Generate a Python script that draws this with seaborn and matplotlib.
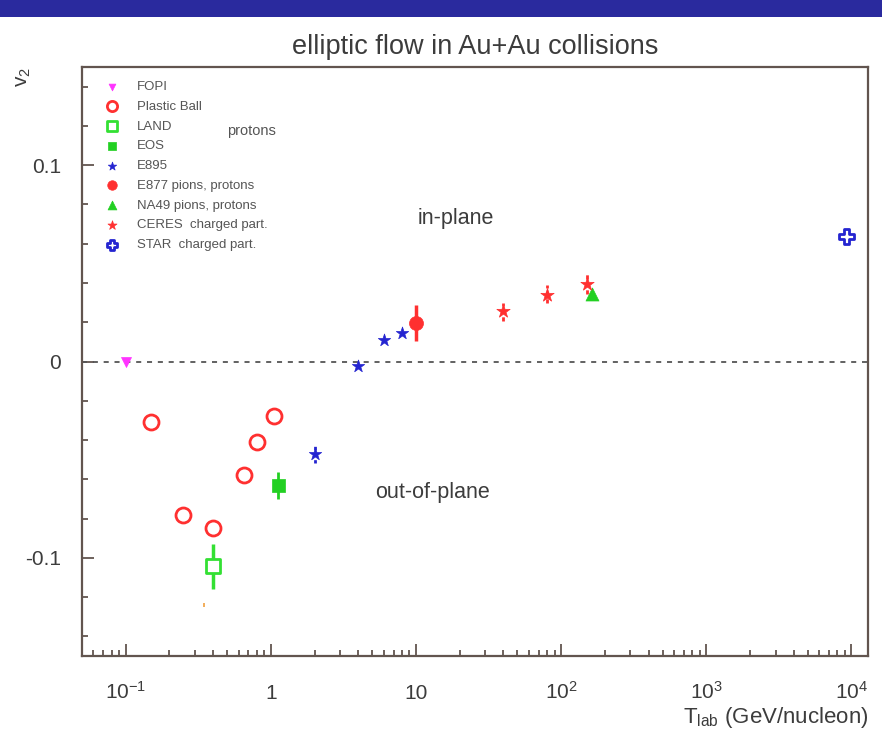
import numpy as np
import pandas as pd
import matplotlib
matplotlib.use("Agg")
import matplotlib.pyplot as plt
import seaborn as sns
from matplotlib.patches import Rectangle
from matplotlib.ticker import FixedLocator, LogLocator, MultipleLocator, NullFormatter, FixedFormatter

# ---------------- data ----------------
fopi_x = [0.1]
fopi_y = [0.0]

pb_x = [0.15, 0.25, 0.40, 0.65, 0.80, 1.05]
pb_y = [-0.031, -0.078, -0.085, -0.058, -0.041, -0.028]

land_x = [0.40]
land_y = [-0.104]
land_lo = [-0.116]
land_hi = [-0.093]

eos_x = [1.12]
eos_y = [-0.063]
eos_lo = [-0.070]
eos_hi = [-0.0565]

e895_x = [2.0, 4.0, 6.0, 8.0]
e895_y = [-0.047, -0.0025, 0.0112, 0.0146]
e895_err_x = [2.0]
e895_lo = [-0.0515]
e895_hi = [-0.042]

e877_x = [10.0]
e877_y = [0.0197]
e877_lo = [0.0104]
e877_hi = [0.029]

na49_x = [162.0]
na49_y = [0.0345]

ceres_x = [40.0, 80.0, 150.0]
ceres_y = [0.0257, 0.034, 0.0395]
ceres_lo = [0.0207, 0.030, 0.0345]
ceres_hi = [0.030, 0.0388, 0.0447]

star_x = [9100.0]
star_y = [0.064]

stray_x = [0.346]
stray_y = [-0.124]

legend_labels = ["FOPI", "Plastic Ball", "LAND", "EOS", "E895",
                 "E877 pions, protons", "NA49 pions, protons",
                 "CERES  charged part.", "STAR  charged part."]

xtick_vals = [0.1, 1, 10, 100, 1000, 10000]
xtick_labels = [r"$10^{-1}$", "1", "10", r"$10^{2}$", r"$10^{3}$", r"$10^{4}$"]
ytick_vals = [-0.1, 0.0, 0.1]
ytick_labels = ["-0.1", "0", "0.1"]

# ---------------- style ----------------
sns.set_theme(style="ticks")
plt.rcParams["font.family"] = ["Liberation Sans", "DejaVu Sans"]
plt.rcParams["mathtext.fontset"] = "custom"
plt.rcParams["mathtext.rm"] = "Liberation Sans"
plt.rcParams["mathtext.it"] = "Liberation Sans:italic"
plt.rcParams["mathtext.default"] = "regular"

TXT = "#3c3c3c"
SPINE = "#62554f"
RED = "#ff3030"
GREEN = "#22d022"
LGREEN = "#33e033"
BLUE = "#2424d0"
MAG = "#ff33ff"

fig = plt.figure(figsize=(8.82, 7.31), dpi=100)
W, H = 882, 731
ax = fig.add_axes([82 / W, (H - 656) / H, (868 - 82) / W, (656 - 67) / H])

# top banner
fig.patches.append(Rectangle((0, (H - 17) / H), 1, 17 / H, transform=fig.transFigure,
                             facecolor="#2a2a9e", edgecolor="none", zorder=0))

ax.set_xscale("log")
ax.set_xlim(0.05, 13000)
ax.set_ylim(-0.15, 0.15)

# zero line
ax.axhline(0, color="#555555", lw=1.3, ls=(0, (2.8, 3.2)), zorder=1)

# error bars
ax.vlines(land_x, land_lo, land_hi, color=LGREEN, lw=2.5, zorder=2)
ax.vlines(eos_x, eos_lo, eos_hi, color=GREEN, lw=2.0, zorder=2)
ax.vlines(e895_err_x, e895_lo, e895_hi, color=BLUE, lw=2.0, ls=(0, (1.2, 1.2)), zorder=2)
ax.vlines(e877_x, e877_lo, e877_hi, color=RED, lw=2.5, zorder=2)
ax.vlines(ceres_x, ceres_lo, ceres_hi, color=RED, lw=2.0, ls=(0, (1.5, 1.2)), zorder=2)

def pts(px):
    return (px * 72 / 100) ** 2

def sc(x, y, label, marker, size, fc, ec, lw):
    df = pd.DataFrame({"x": x, "y": y})
    sns.scatterplot(data=df, x="x", y="y", ax=ax, marker=marker, s=pts(size),
                    facecolor=fc, edgecolor=ec, linewidth=lw, label=label, zorder=3)

sc(fopi_x, fopi_y, legend_labels[0], "v", 10, MAG, MAG, 0.5)
sc(pb_x, pb_y, legend_labels[1], "o", 15, "white", RED, 2.0)
sc(land_x, land_y, legend_labels[2], "s", 14, "white", LGREEN, 2.0)
sc(eos_x, eos_y, legend_labels[3], "s", 13, GREEN, GREEN, 0.5)
sc(e895_x, e895_y, legend_labels[4], "*", 13, BLUE, BLUE, 0.5)
sc(e877_x, e877_y, legend_labels[5], "o", 14, RED, RED, 0.5)
sc(na49_x, na49_y, legend_labels[6], "^", 13, GREEN, GREEN, 0.5)
sc(ceres_x, ceres_y, legend_labels[7], "*", 14, RED, RED, 0.5)
sc(star_x, star_y, legend_labels[8], "P", 15, "white", BLUE, 2.0)
ax.scatter(stray_x, stray_y, marker="|", s=12, color="#f0a040", lw=1.2, zorder=3)

leg = ax.legend(loc="upper left", bbox_to_anchor=(0.03, 0.9765), frameon=False,
                fontsize=9.5, markerscale=0.68, labelspacing=0.57,
                handlelength=1.0, handletextpad=1.38, borderpad=0, borderaxespad=0)
for t in leg.get_texts():
    t.set_color("#555555")

# ticks
ax.xaxis.set_major_locator(FixedLocator(xtick_vals))
ax.xaxis.set_major_formatter(FixedFormatter(xtick_labels))
ax.xaxis.set_minor_locator(LogLocator(base=10, subs=np.arange(2, 10), numticks=20))
ax.xaxis.set_minor_formatter(NullFormatter())
ax.yaxis.set_major_locator(FixedLocator(ytick_vals))
ax.yaxis.set_major_formatter(FixedFormatter(ytick_labels))
ax.yaxis.set_minor_locator(MultipleLocator(0.02))

ax.tick_params(which="both", direction="in", top=False, right=False, color=SPINE, width=1.3)
ax.tick_params(which="major", length=8.5, labelsize=15, labelcolor=TXT)
ax.tick_params(which="minor", length=4.5)
ax.tick_params(axis="x", which="major", pad=31)
ax.tick_params(axis="y", which="major", pad=15)
for lbl in ax.get_xticklabels():
    lbl.set_va("baseline")

for s in ax.spines.values():
    s.set_color(SPINE)
    s.set_linewidth(1.6)

ax.set_xlabel(r"T$_{\rm lab}$ (GeV/nucleon)", fontsize=16, color=TXT, ha="right")
ax.xaxis.set_label_coords(1.0, -0.083)
ax.set_ylabel(r"$v_2$", fontsize=15, color=TXT, ha="right", rotation=90)
ax.yaxis.set_label_coords(-0.062, 1.0)

ax.set_title("elliptic flow in Au+Au collisions", fontsize=19.5, color=TXT, pad=9)

ax.text(18.7, 0.0728, "in-plane", fontsize=15.5, color=TXT, ha="center", va="center")
ax.text(13.0, -0.0665, "out-of-plane", fontsize=15.5, color=TXT, ha="center", va="center")
ax.text(0.216, 0.891, "protons", fontsize=10.5, color="#555555", ha="center", va="center",
        transform=ax.transAxes)

fig.savefig("out.png", dpi=100)
